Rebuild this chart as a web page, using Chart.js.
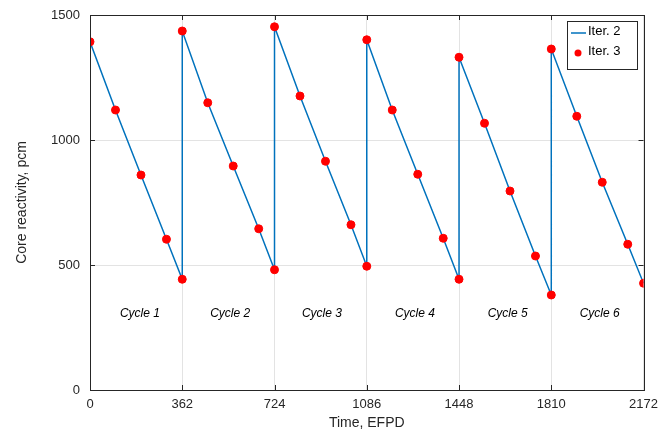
<!DOCTYPE html>
<html>
<head>
<meta charset="utf-8">
<script src="https://cdn.jsdelivr.net/npm/chart.js@4/dist/chart.umd.min.js"></script>
<style>
  body { margin: 0; background: #fff; }
  #wrap { width: 665px; height: 436px; }
</style>
</head>
<body>
<div id="wrap"><canvas id="ReactChart"></canvas></div>
<script>
// time of each point, EFPD (cycle boundaries repeated for the reload jump)
var timeEfpd = [0, 100, 200, 300, 362,
                362, 462, 562, 662, 724,
                724, 824, 924, 1024, 1086,
                1086, 1186, 1286, 1386, 1448,
                1448, 1548, 1648, 1748, 1810,
                1810, 1910, 2010, 2110, 2172];
var iter2 = [1393, 1120, 860, 603, 443,
             1436, 1149, 896, 645, 481,
             1453, 1176, 915, 661, 495,
             1401, 1120, 863, 607, 443,
             1331, 1067, 796, 536, 380,
             1364, 1095, 831, 583, 427];
var iter3 = [1393, 1120, 860, 603, 443,
             1436, 1149, 896, 645, 481,
             1453, 1176, 915, 661, 495,
             1401, 1120, 863, 607, 443,
             1331, 1067, 796, 536, 380,
             1364, 1095, 831, 583, 427];
var xTicks = [0, 362, 724, 1086, 1448, 1810, 2172];
var yTicks = [0, 500, 1000, 1500];
var cycleNames = ['Cycle 1', 'Cycle 2', 'Cycle 3', 'Cycle 4', 'Cycle 5', 'Cycle 6'];
var cycleLabelX = [196, 550, 910, 1275, 1639, 2000];
var cycleLabelY = 304;

var FONT = '"Liberation Sans", Arial, Helvetica, sans-serif';

function pts(xs, ys) {
  return xs.map(function(x, i) { return { x: x, y: ys[i] }; });
}

// box, inward ticks, cycle labels and legend
var decorations = {
  id: 'decorations',
  afterDraw: function(chart) {
    var c = chart.ctx, a = chart.chartArea;
    var xs = chart.scales.x, ys = chart.scales.y;
    c.save();
    c.strokeStyle = '#262626';
    c.lineWidth = 1;
    c.strokeRect(Math.round(a.left) + 0.5, Math.round(a.top) + 0.5,
                 Math.round(a.right - a.left), Math.round(a.bottom - a.top));
    c.beginPath();
    xTicks.forEach(function(v) {
      var px = Math.round(xs.getPixelForValue(v)) + 0.5;
      c.moveTo(px, a.bottom); c.lineTo(px, a.bottom - 5);
      c.moveTo(px, a.top); c.lineTo(px, a.top + 5);
    });
    yTicks.forEach(function(v) {
      var py = Math.round(ys.getPixelForValue(v)) + 0.5;
      c.moveTo(a.left, py); c.lineTo(a.left + 5, py);
      c.moveTo(a.right, py); c.lineTo(a.right - 5, py);
    });
    c.stroke();

    c.fillStyle = '#000';
    c.font = 'italic 12px ' + FONT;
    c.textAlign = 'center';
    c.textBaseline = 'middle';
    cycleNames.forEach(function(n, i) {
      c.fillText(n, xs.getPixelForValue(cycleLabelX[i]), ys.getPixelForValue(cycleLabelY));
    });

    // legend
    var lx = 567, ly = 21, lw = 70, lh = 48;
    c.fillStyle = '#fff';
    c.fillRect(lx, ly, lw, lh);
    c.strokeStyle = '#262626';
    c.strokeRect(lx + 0.5, ly + 0.5, lw, lh);
    c.strokeStyle = '#0072BD';
    c.lineWidth = 1.5;
    c.beginPath(); c.moveTo(571, 33); c.lineTo(586, 33); c.stroke();
    c.fillStyle = '#ff0000';
    c.beginPath(); c.arc(578, 53, 3.5, 0, Math.PI * 2); c.fill();
    c.fillStyle = '#000';
    c.font = '13px ' + FONT;
    c.textAlign = 'left';
    c.fillText('Iter. 2', 588, 31);
    c.fillText('Iter. 3', 588, 51);
    c.restore();
  }
};

var ctx = document.getElementById('ReactChart').getContext('2d');
var chart = new Chart(ctx, {
  type: 'scatter',
  data: {
    datasets: [{
      label: 'Iter. 2',
      data: pts(timeEfpd, iter2),
      showLine: true,
      borderColor: '#0072BD',
      borderWidth: 1.5,
      pointRadius: 0,
      order: 2
    }, {
      label: 'Iter. 3',
      data: pts(timeEfpd, iter3),
      showLine: false,
      backgroundColor: '#ff0000',
      borderColor: '#ff0000',
      pointRadius: 4,
      order: 1
    }]
  },
  options: {
    responsive: true,
    maintainAspectRatio: false,
    animation: false,
    events: [],
    layout: { padding: { top: 15, right: 20, left: 0, bottom: 0 } },
    plugins: { legend: { display: false }, tooltip: { enabled: false } },
    scales: {
      x: {
        type: 'linear', min: 0, max: 2172,
        afterBuildTicks: function(s) { s.ticks = xTicks.map(function(v) { return { value: v }; }); },
        afterFit: function(s) { s.height = 46; },
        grid: { color: '#e3e3e3', drawTicks: false },
        border: { display: false },
        ticks: { color: '#262626', font: { family: FONT, size: 13 }, padding: 7, maxRotation: 0,
                 callback: function(v) { return String(v); } },
        title: { display: true, text: 'Time, EFPD', color: '#262626', font: { family: FONT, size: 14 }, padding: { top: 6 } }
      },
      y: {
        min: 0, max: 1500,
        afterBuildTicks: function(s) { s.ticks = yTicks.map(function(v) { return { value: v }; }); },
        afterFit: function(s) { s.width = 90; s.paddingTop = 0; s.paddingBottom = 0; },
        grid: { color: '#e3e3e3', drawTicks: false },
        border: { display: false },
        ticks: { color: '#262626', font: { family: FONT, size: 13 }, padding: 10,
                 callback: function(v) { return String(v); } },
        title: { display: true, text: 'Core reactivity, pcm', color: '#262626', font: { family: FONT, size: 14 }, padding: { top: 14, bottom: 0 } }
      }
    }
  },
  plugins: [decorations]
});
</script>
</body>
</html>
